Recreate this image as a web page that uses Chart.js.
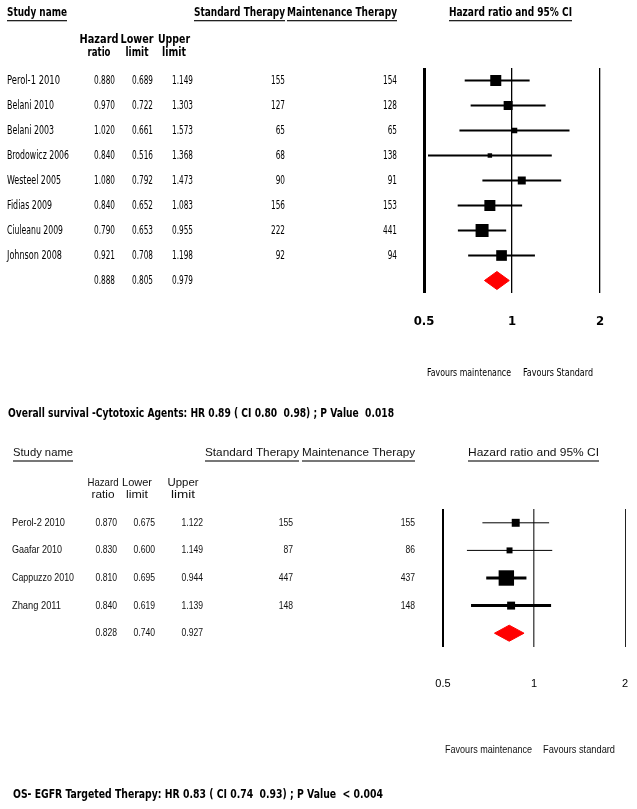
<!DOCTYPE html>
<html>
<head>
<meta charset="utf-8">
<script src="https://cdn.jsdelivr.net/npm/chart.js@4/dist/chart.umd.min.js"></script>
<style>
  body { margin: 0; background: #fff; width: 637px; height: 809px; position: relative; overflow: hidden; }
  canvas { position: absolute; left: 0; }
  #c1 { top: 0; }
  #c2 { top: 430px; }
</style>
</head>
<body>
<canvas id="c1" width="637" height="430"></canvas>
<canvas id="c2" width="637" height="379"></canvas>
<script>
// ---- data: cytotoxic agents ----
const studies1 = ["Perol-1 2010", "Belani 2010", "Belani 2003", "Brodowicz 2006", "Westeel 2005", "Fidias 2009", "Ciuleanu 2009", "Johnson 2008"];
const hr1 = [0.880, 0.970, 1.020, 0.840, 1.080, 0.840, 0.790, 0.921];
const lower1 = [0.689, 0.722, 0.661, 0.516, 0.792, 0.652, 0.653, 0.708];
const upper1 = [1.149, 1.303, 1.573, 1.368, 1.473, 1.083, 0.955, 1.198];
const weight1 = [16.4, 10.9, 4.1, 2.7, 8.6, 16.4, 22.8, 15.4];   // relative weight (%)
const standardN1 = [155, 127, 65, 68, 90, 156, 222, 92];
const maintN1 = [154, 128, 65, 138, 91, 153, 441, 94];
const summary1 = [0.888, 0.805, 0.979];   // hr, lower, upper
const title1 = "Overall survival -Cytotoxic Agents: HR 0.89 ( CI 0.80  0.98) ; P Value  0.018";

// ---- data: EGFR targeted therapy ----
const studies2 = ["Perol-2 2010", "Gaafar 2010", "Cappuzzo 2010", "Zhang 2011"];
const hr2 = [0.870, 0.830, 0.810, 0.840];
const lower2 = [0.675, 0.600, 0.695, 0.619];
const upper2 = [1.122, 1.149, 0.944, 1.139];
const weight2 = [15.8, 8.9, 59.4, 15.8];
const standardN2 = [155, 87, 447, 148];
const maintN2 = [155, 86, 437, 148];
const summary2 = [0.828, 0.740, 0.927];
const title2 = "OS- EGFR Targeted Therapy: HR 0.83 ( CI 0.74  0.93) ; P Value  < 0.004";

const xTicks = [0.5, 1, 2];

const NARROW = '"Liberation Sans Narrow", "Arial Narrow", "DejaVu Sans Condensed", sans-serif';
const SANS = '"Liberation Sans", Arial, sans-serif';

// draws text, optionally squeezed/stretched to a given width
function drawText(ctx, s, x, y, o) {
  ctx.save();
  ctx.font = o.font;
  ctx.fillStyle = o.color || '#000';
  ctx.textAlign = o.align || 'left';
  ctx.textBaseline = 'middle';
  const nat = ctx.measureText(s).width;
  const w = o.width || nat * (o.squeeze || 1);
  ctx.translate(x, y);
  ctx.scale(w / nat, 1);
  ctx.fillText(s, 0, 0);
  ctx.restore();
  if (o.underline) {
    let left = x;
    if (o.align === 'right') left = x - w;
    if (o.align === 'center') left = x - w / 2;
    ctx.fillStyle = o.underline;
    ctx.fillRect(left, y + o.ulOffset, w, o.ulWidth);
  }
}

function tablePlugin(p) {
  return {
    id: 'table',
    afterDraw(chart) {
      const ctx = chart.ctx;
      const y = chart.scales.y;
      const L = p.layout;
      L.headers.forEach(h => drawText(ctx, h.text, h.x, L.headerY,
        { font: L.headFont, width: h.w, underline: L.ulColor, ulOffset: L.ulOffset, ulWidth: L.ulWidth, color: L.color }));
      L.colHeads.forEach(c => {
        drawText(ctx, c.top, c.x, L.colHeadY[0], { font: L.colFont, align: 'center', width: c.w[0], color: L.color });
        drawText(ctx, c.bottom, c.x, L.colHeadY[1], { font: L.colFont, align: 'center', width: c.w[1], color: L.color });
      });
      const rows = p.studies.length;
      const num = { font: L.rowFont, align: 'right', squeeze: L.numSqueeze, color: L.color };
      for (let i = 0; i <= rows; i++) {
        const py = y.getPixelForValue(i);
        const isSum = i === rows;
        const vals = isSum ? p.summary : [p.hr[i], p.lower[i], p.upper[i]];
        if (!isSum) {
          drawText(ctx, p.studies[i], L.col.name, py, { font: L.rowFont, width: L.nameW[i], color: L.color });
          drawText(ctx, String(p.standardN[i]), L.col.std, py, num);
          drawText(ctx, String(p.maintN[i]), L.col.mnt, py, num);
        }
        drawText(ctx, vals[0].toFixed(3), L.col.hr, py, num);
        drawText(ctx, vals[1].toFixed(3), L.col.lo, py, num);
        drawText(ctx, vals[2].toFixed(3), L.col.hi, py, num);
      }
      L.favours.forEach(f => drawText(ctx, f.text, f.x, L.favoursY, { font: L.favFont, width: f.w, color: L.color }));
      drawText(ctx, p.title, L.title.x, L.title.y, { font: L.titleFont, width: L.title.w, color: '#000' });
    }
  };
}

function forestChart(id, p) {
  const canvas = document.getElementById(id);
  const n = p.studies.length;
  const h = p.layout.diamondHalf;
  const datasets = [{
    data: p.hr.map((v, i) => ({ x: v, y: i })),
    pointStyle: 'rect',
    pointRadius: p.weight.map(w => p.layout.boxScale * Math.sqrt(w) / Math.SQRT2),
    backgroundColor: '#000',
    borderWidth: 0
  }];
  p.lower.forEach((lo, i) => datasets.push({
    data: [{ x: lo, y: i }, { x: p.upper[i], y: i }],
    showLine: true, borderColor: '#000', borderWidth: p.layout.whisker[i], pointRadius: 0
  }));
  const s = p.summary;
  datasets.push({
    data: [{ x: s[1], y: n }, { x: s[0], y: n - h }, { x: s[2], y: n }, { x: s[0], y: n + h }, { x: s[1], y: n }],
    showLine: true, fill: 'shape', backgroundColor: '#ff0000', borderColor: '#ff0000',
    borderWidth: 1, pointRadius: 0
  });
  const A = p.layout.area;
  const G = p.layout.grid;
  return new Chart(canvas, {
    type: 'scatter',
    data: { datasets },
    options: {
      responsive: false,
      animation: false,
      events: [],
      layout: { padding: { left: A.left, right: canvas.width - A.right, top: A.top, bottom: 0 } },
      plugins: { legend: { display: false }, tooltip: { enabled: false } },
      scales: {
        x: {
          type: 'logarithmic', min: 0.5, max: 2,
          afterBuildTicks: sc => { sc.ticks = xTicks.map(v => ({ value: v })); },
          afterFit: sc => {
            sc.height = canvas.height - A.bottom;
            sc.paddingLeft = 0;
            sc.paddingRight = 0;
          },
          grid: {
            drawTicks: false,
            color: c => G.color[xTicks.indexOf(c.tick.value)],
            lineWidth: c => G.width[xTicks.indexOf(c.tick.value)]
          },
          border: { display: false },
          ticks: {
            padding: p.layout.tickPad, color: '#000', maxRotation: 0,
            font: p.layout.tickFont,
            callback: v => String(v)
          }
        },
        y: { type: 'linear', display: false, reverse: true, min: -0.5, max: n + 0.5 }
      }
    },
    plugins: [tablePlugin(p)]
  });
}

forestChart('c1', {
  studies: studies1, hr: hr1, lower: lower1, upper: upper1, weight: weight1,
  standardN: standardN1, maintN: maintN1, summary: summary1, title: title1,
  layout: {
    area: { left: 424, right: 600, top: 68, bottom: 293 },
    grid: { color: ['#000', '#000', '#000'], width: [3, 1.3, 1.3] },
    tickPad: 21, tickFont: { family: NARROW, size: 13, weight: 'bold' },
    boxScale: 2.72, whisker: [2, 2, 2, 2, 2, 2, 2, 2], diamondHalf: 0.36,
    color: '#000',
    headerY: 13, headFont: 'bold 12px ' + NARROW, ulColor: '#222', ulOffset: 7, ulWidth: 1.3,
    headers: [
      { text: 'Study name', x: 7, w: 60 },
      { text: 'Standard Therapy', x: 194, w: 91 },
      { text: 'Maintenance Therapy', x: 287, w: 110 },
      { text: 'Hazard ratio and 95% CI', x: 449, w: 123 }
    ],
    colHeadY: [40, 53], colFont: 'bold 12px ' + NARROW,
    colHeads: [
      { top: 'Hazard', bottom: 'ratio', x: 99, w: [39, 23] },
      { top: 'Lower', bottom: 'limit', x: 137, w: [33, 23] },
      { top: 'Upper', bottom: 'limit', x: 174, w: [32, 24] }
    ],
    rowFont: '12px ' + NARROW, numSqueeze: 0.68,
    col: { name: 7, hr: 115, lo: 153, hi: 193, std: 285, mnt: 397 },
    nameW: [53, 47, 47, 62, 54, 45, 56, 55],
    favoursY: 373, favFont: '11px ' + NARROW,
    favours: [{ text: 'Favours maintenance', x: 427, w: 84 }, { text: 'Favours Standard', x: 523, w: 70 }],
    titleFont: 'bold 13px ' + NARROW, title: { x: 8, y: 414, w: 386 }
  }
});

forestChart('c2', {
  studies: studies2, hr: hr2, lower: lower2, upper: upper2, weight: weight2,
  standardN: standardN2, maintN: maintN2, summary: summary2, title: title2,
  layout: {
    area: { left: 443, right: 625, top: 79, bottom: 217 },
    grid: { color: ['#000', '#555', '#222'], width: [2, 1.5, 1] },
    tickPad: 30, tickFont: { family: SANS, size: 11 },
    boxScale: 2.0, whisker: [1, 1, 3, 3], diamondHalf: 0.29,
    color: '#111',
    headerY: 23, headFont: '11px ' + SANS, ulColor: '#777', ulOffset: 7, ulWidth: 2,
    headers: [
      { text: 'Study name', x: 13, w: 60 },
      { text: 'Standard Therapy', x: 205, w: 94 },
      { text: 'Maintenance Therapy', x: 302, w: 113 },
      { text: 'Hazard ratio and 95% CI', x: 468, w: 131 }
    ],
    colHeadY: [53, 65], colFont: '11px ' + SANS,
    colHeads: [
      { top: 'Hazard', bottom: 'ratio', x: 103, w: [31, 23] },
      { top: 'Lower', bottom: 'limit', x: 137, w: [30, 22] },
      { top: 'Upper', bottom: 'limit', x: 183, w: [31, 24] }
    ],
    rowFont: '11px ' + SANS, numSqueeze: 0.78,
    col: { name: 12, hr: 117, lo: 155, hi: 203, std: 293, mnt: 415 },
    nameW: [53, 50, 62, 49],
    favoursY: 320, favFont: '10px ' + SANS,
    favours: [{ text: 'Favours maintenance', x: 445, w: 87 }, { text: 'Favours standard', x: 543, w: 72 }],
    titleFont: 'bold 13px ' + NARROW, title: { x: 13, y: 365, w: 370 }
  }
});
</script>
</body>
</html>
